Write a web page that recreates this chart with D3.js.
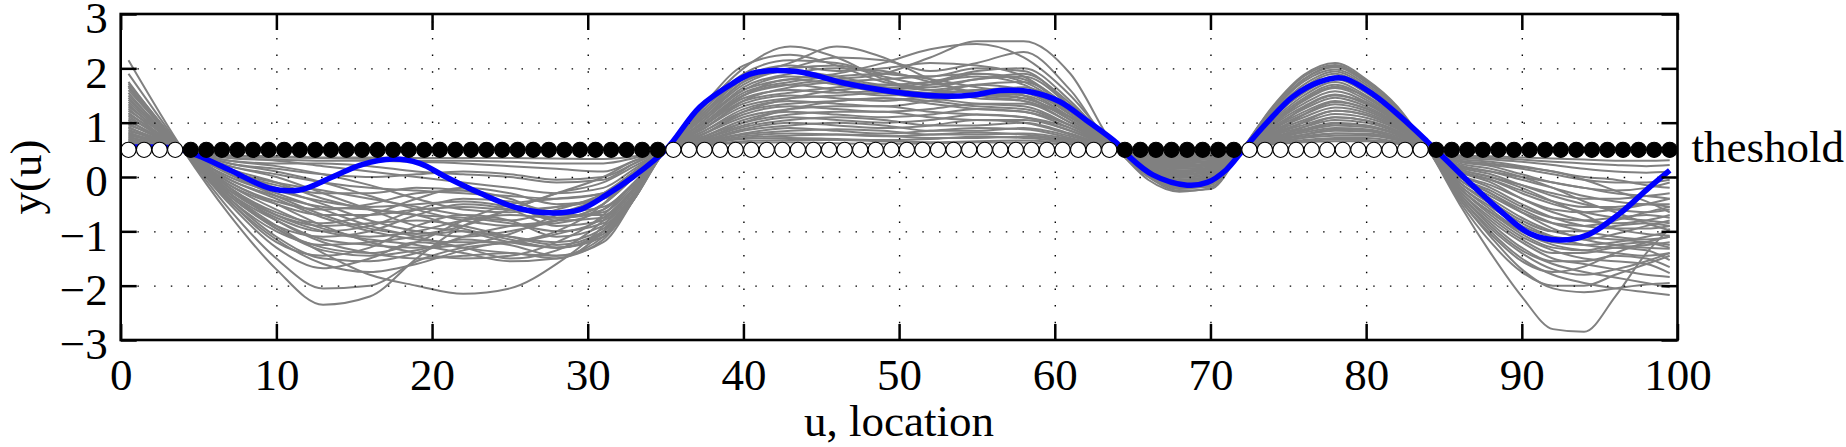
<!DOCTYPE html>
<html>
<head>
<meta charset="utf-8">
<script src="https://cdn.jsdelivr.net/npm/d3@7"></script>
<style>
  body { margin: 0; background: #fff; }
  svg text { font-family: "Liberation Serif", "Times New Roman", serif; fill: #000; }
</style>
</head>
<body>
<div id="chart"></div>
<script>
const threshold = 0.5;
const crossings = [4, 35, 64, 72, 84];
const xTicks = [0, 10, 20, 30, 40, 50, 60, 70, 80, 90, 100];
const yTicks = [-3, -2, -1, 0, 1, 2, 3];
const xLabel = "u, location";
const yLabel = "y(u)";
const thresholdLabel = "theshold";

// markers: runs of [above threshold?, count] for u = 0.5 ... 99.5
const markerRuns = [[1, 4], [0, 31], [1, 29], [0, 8], [1, 12], [0, 16]];

// blue realisation
const blueU = [0.5, 2, 3.5, 4.9, 7, 9.6, 11.5, 13.6, 15.4, 17.5, 19.2, 20.9, 23.1, 25.6, 27.6, 29.5, 31.2, 32.9, 35,
  37.2, 39.3, 40.6, 43.4, 46.6, 49.6, 52.6, 54.8, 56.5, 58.4, 60.3, 62, 64, 64.8, 66.3, 68.5, 69.8, 71, 72.1,
  73.6, 75.3, 77, 78.5, 80.5, 82.2, 83.9, 86.7, 88.8, 90.5, 92.4, 94.2, 96.3, 98, 99.5];
const blueV = [0.55, 0.55, 0.53, 0.40, 0.13, -0.21, -0.24, 0.0, 0.22, 0.33, 0.25, 0.0, -0.3, -0.58, -0.66, -0.6, -0.33, 0.0, 0.5,
  1.29, 1.72, 1.91, 1.94, 1.72, 1.57, 1.49, 1.51, 1.59, 1.57, 1.39, 1.05, 0.62, 0.37, 0.04, -0.15, -0.10, 0.13, 0.5,
  0.99, 1.48, 1.75, 1.82, 1.51, 1.11, 0.66, -0.12, -0.67, -1.04, -1.16, -1.07, -0.67, -0.24, 0.12];

// gray conditional simulations, one row per curve, split at the crossings
const segAU = [0.5];
const segA = [[2.15], [1.9], [1.75], [1.72], [1.68], [1.65], [1.6], [1.55], [1.5], [1.46], [1.42], [1.38], [1.34], [1.3],
  [1.26], [1.22], [1.18], [1.15], [1.12], [1.08], [1.05], [1.02], [0.98], [0.95], [0.92], [0.9], [0.87], [0.84], [0.82],
  [0.8], [0.78], [0.76], [0.74], [0.72], [0.7], [0.68], [0.66], [0.64], [0.62], [0.6]];

const segBU = [7, 10, 13, 16, 19, 22, 25, 28, 31, 33];
const segB = [
  [-0.70, -1.70, -2.35, -2.20, -1.50, -0.90, -0.60, -0.30, 0.00, 0.30],
  [-0.60, -1.50, -2.05, -2.00, -1.55, -1.30, -1.20, -1.00, -0.50, 0.10],
  [-0.30, -0.90, -1.40, -1.80, -2.00, -2.15, -2.05, -1.60, -0.90, -0.20],
  [-0.50, -1.30, -1.68, -1.50, -1.20, -1.30, -1.50, -1.35, -0.80, -0.20],
  [-0.40, -1.10, -1.50, -1.55, -1.40, -1.10, -0.90, -0.80, -0.50, 0.00],
  [-0.20, -0.80, -1.20, -1.40, -1.50, -1.45, -1.40, -1.50, -1.00, -0.30],
  [-0.45, -1.20, -1.45, -1.30, -0.90, -0.70, -0.80, -1.10, -0.90, -0.30],
  [-0.10, -0.50, -0.90, -1.20, -1.40, -1.50, -1.45, -1.20, -0.70, -0.10],
  [-0.30, -0.95, -1.30, -1.40, -1.20, -0.80, -0.50, -0.40, -0.30, 0.10],
  [0.00, -0.30, -0.60, -0.90, -1.10, -1.30, -1.40, -1.45, -1.10, -0.40],
  [-0.35, -0.90, -1.10, -1.00, -0.70, -0.50, -0.60, -0.90, -0.80, -0.20],
  [-0.15, -0.60, -0.95, -1.10, -1.00, -0.80, -0.70, -0.75, -0.60, -0.10],
  [0.10, -0.20, -0.50, -0.80, -1.00, -1.10, -1.00, -0.80, -0.50, 0.00],
  [-0.25, -0.75, -1.00, -0.90, -0.60, -0.40, -0.45, -0.65, -0.55, -0.10],
  [0.20, 0.00, -0.30, -0.60, -0.90, -1.00, -1.20, -1.30, -1.00, -0.35],
  [-0.40, -1.00, -1.25, -1.20, -1.10, -1.00, -1.10, -1.20, -0.95, -0.30],
  [0.05, -0.35, -0.70, -0.95, -1.05, -0.90, -0.60, -0.30, -0.10, 0.20],
  [-0.20, -0.65, -0.85, -0.70, -0.40, -0.20, -0.30, -0.50, -0.40, 0.00],
  [0.15, -0.10, -0.40, -0.60, -0.70, -0.75, -0.85, -1.00, -0.85, -0.25],
  [-0.30, -0.80, -1.15, -1.25, -1.30, -1.25, -1.05, -0.70, -0.35, 0.05],
  [0.25, 0.10, -0.10, -0.35, -0.60, -0.80, -0.90, -0.85, -0.60, -0.10],
  [-0.10, -0.45, -0.60, -0.50, -0.30, -0.25, -0.40, -0.70, -0.70, -0.20],
  [0.10, -0.15, -0.30, -0.30, -0.20, -0.25, -0.50, -0.80, -0.75, -0.20],
  [-0.25, -0.70, -0.90, -0.85, -0.80, -0.90, -1.10, -1.25, -1.00, -0.35],
  [0.30, 0.20, 0.05, -0.15, -0.40, -0.60, -0.65, -0.55, -0.35, 0.05],
  [-0.05, -0.40, -0.75, -1.00, -1.15, -1.20, -1.20, -1.05, -0.75, -0.20],
  [0.20, 0.05, -0.10, -0.20, -0.25, -0.30, -0.35, -0.40, -0.30, 0.10],
  [-0.15, -0.50, -0.70, -0.70, -0.60, -0.55, -0.60, -0.55, -0.40, 0.00],
  [0.35, 0.30, 0.20, 0.10, 0.00, -0.10, -0.20, -0.30, -0.20, 0.15],
  [0.05, -0.25, -0.45, -0.55, -0.50, -0.45, -0.55, -0.75, -0.65, -0.15],
  [0.30, 0.25, 0.25, 0.20, 0.10, 0.05, 0.00, -0.10, -0.05, 0.25],
  [-0.35, -0.95, -1.35, -1.45, -1.35, -1.15, -1.25, -1.45, -1.20, -0.40],
  [0.35, 0.32, 0.30, 0.30, 0.28, 0.25, 0.20, 0.15, 0.10, 0.30],
  [0.10, -0.10, -0.25, -0.40, -0.55, -0.70, -0.80, -0.60, -0.30, 0.10],
  [0.38, 0.36, 0.35, 0.33, 0.30, 0.30, 0.28, 0.25, 0.25, 0.35],
  [-0.05, -0.35, -0.55, -0.60, -0.70, -0.95, -1.15, -1.30, -1.10, -0.40],
  [0.25, 0.15, 0.05, 0.00, 0.05, 0.10, 0.05, -0.05, 0.00, 0.25],
  [-0.20, -0.70, -1.00, -1.15, -1.25, -1.40, -1.55, -1.50, -1.15, -0.40],
  [0.40, 0.38, 0.36, 0.36, 0.35, 0.35, 0.35, 0.34, 0.33, 0.38],
  [-0.45, -1.15, -1.60, -1.75, -1.60, -1.35, -1.20, -1.30, -1.05, -0.35]
];

const segCU = [37.5, 40, 43, 46, 49, 52, 55, 58, 61];
const segC = [
  [1.30, 2.00, 2.40, 2.20, 1.80, 1.60, 1.70, 1.60, 1.20],
  [1.20, 1.80, 2.10, 2.40, 2.20, 1.80, 1.50, 1.40, 1.10],
  [1.10, 1.60, 1.80, 1.90, 2.10, 2.35, 2.45, 2.20, 1.50],
  [1.00, 1.50, 1.70, 1.80, 1.90, 2.20, 2.50, 2.50, 1.90],
  [1.25, 1.90, 2.15, 2.10, 1.90, 1.85, 2.00, 1.95, 1.30],
  [1.20, 1.85, 2.05, 1.95, 2.00, 2.10, 2.05, 1.85, 1.25],
  [1.15, 1.75, 2.00, 2.05, 1.85, 1.70, 1.80, 1.90, 1.35],
  [1.10, 1.70, 1.95, 1.85, 1.70, 1.75, 1.95, 2.00, 1.40],
  [1.05, 1.60, 1.85, 1.80, 1.65, 1.55, 1.60, 1.65, 1.20],
  [1.00, 1.55, 1.75, 1.85, 1.90, 1.80, 1.65, 1.50, 1.05],
  [1.00, 1.50, 1.70, 1.60, 1.50, 1.55, 1.70, 1.75, 1.25],
  [0.95, 1.45, 1.60, 1.55, 1.60, 1.75, 1.85, 1.70, 1.15],
  [0.95, 1.40, 1.55, 1.65, 1.70, 1.60, 1.45, 1.40, 1.00],
  [0.90, 1.35, 1.50, 1.45, 1.40, 1.50, 1.60, 1.55, 1.10],
  [0.90, 1.30, 1.45, 1.50, 1.55, 1.45, 1.35, 1.30, 0.95],
  [0.85, 1.25, 1.40, 1.35, 1.30, 1.40, 1.50, 1.45, 1.05],
  [0.85, 1.20, 1.35, 1.40, 1.45, 1.35, 1.25, 1.20, 0.95],
  [0.80, 1.15, 1.30, 1.25, 1.20, 1.25, 1.35, 1.35, 1.00],
  [0.80, 1.10, 1.25, 1.30, 1.30, 1.20, 1.15, 1.10, 0.90],
  [0.75, 1.05, 1.20, 1.15, 1.10, 1.15, 1.25, 1.20, 0.90],
  [0.75, 1.00, 1.15, 1.20, 1.20, 1.10, 1.05, 1.05, 0.85],
  [0.72, 0.95, 1.10, 1.05, 1.00, 1.05, 1.15, 1.10, 0.85],
  [0.70, 0.92, 1.05, 1.10, 1.05, 0.95, 0.95, 1.00, 0.80],
  [0.68, 0.88, 1.00, 0.95, 0.90, 0.95, 1.05, 1.00, 0.78],
  [0.66, 0.85, 0.95, 1.00, 0.95, 0.85, 0.85, 0.90, 0.75],
  [0.65, 0.80, 0.90, 0.85, 0.80, 0.85, 0.90, 0.88, 0.72],
  [0.64, 0.78, 0.85, 0.88, 0.85, 0.78, 0.78, 0.80, 0.70],
  [0.62, 0.75, 0.80, 0.78, 0.75, 0.78, 0.82, 0.78, 0.68],
  [0.61, 0.72, 0.76, 0.78, 0.76, 0.72, 0.72, 0.74, 0.66],
  [0.60, 0.70, 0.72, 0.70, 0.68, 0.70, 0.74, 0.72, 0.64],
  [0.59, 0.66, 0.68, 0.68, 0.66, 0.64, 0.66, 0.67, 0.62],
  [0.58, 0.63, 0.64, 0.62, 0.61, 0.62, 0.64, 0.63, 0.60],
  [1.35, 2.05, 2.25, 2.05, 1.75, 1.65, 1.80, 1.85, 1.30],
  [1.15, 1.80, 1.95, 1.75, 1.60, 1.70, 1.90, 1.80, 1.20],
  [1.05, 1.65, 1.90, 2.00, 1.95, 1.75, 1.55, 1.45, 1.10],
  [0.90, 1.40, 1.65, 1.75, 1.80, 1.85, 1.90, 1.75, 1.20],
  [0.80, 1.20, 1.45, 1.60, 1.65, 1.60, 1.55, 1.50, 1.10],
  [0.70, 1.00, 1.25, 1.40, 1.45, 1.40, 1.30, 1.25, 0.95],
  [0.95, 1.50, 1.80, 1.70, 1.55, 1.45, 1.50, 1.55, 1.15],
  [1.10, 1.75, 2.00, 2.20, 2.15, 1.95, 2.10, 2.30, 1.60]
];

const segDU = [66, 68, 70];
const segD = [
  [-0.05, -0.27, -0.20], [0.00, -0.25, -0.22], [0.02, -0.22, -0.15], [0.05, -0.20, -0.12], [0.05, -0.18, -0.10],
  [0.08, -0.15, -0.08], [0.10, -0.12, -0.05], [0.12, -0.10, -0.02], [0.12, -0.08, 0.00], [0.15, -0.05, 0.02],
  [0.15, -0.02, 0.05], [0.18, 0.00, 0.08], [0.18, 0.03, 0.10], [0.20, 0.05, 0.12], [0.22, 0.08, 0.14],
  [0.22, 0.10, 0.16], [0.24, 0.12, 0.18], [0.26, 0.15, 0.20], [0.27, 0.18, 0.22], [0.28, 0.20, 0.24],
  [0.30, 0.22, 0.26], [0.31, 0.25, 0.28], [0.32, 0.27, 0.30], [0.34, 0.30, 0.32], [0.35, 0.32, 0.34],
  [0.36, 0.34, 0.36], [0.38, 0.36, 0.38], [0.39, 0.38, 0.40], [0.40, 0.40, 0.41], [0.42, 0.42, 0.43],
  [0.02, -0.20, -0.18], [0.07, -0.13, -0.12], [0.10, -0.05, -0.04], [0.14, 0.02, 0.00], [0.18, 0.06, 0.06],
  [0.21, 0.12, 0.10], [0.25, 0.16, 0.15], [0.29, 0.23, 0.21], [0.33, 0.28, 0.27], [0.37, 0.35, 0.33]
];

const segEU = [74, 76, 78, 80, 82];
const segE = [
  [1.30, 1.88, 2.10, 1.80, 1.30], [1.28, 1.85, 2.06, 1.78, 1.28], [1.25, 1.80, 2.02, 1.74, 1.25],
  [1.22, 1.76, 1.98, 1.70, 1.22], [1.18, 1.70, 1.94, 1.66, 1.20], [1.15, 1.65, 1.90, 1.62, 1.18],
  [1.12, 1.60, 1.85, 1.58, 1.15], [1.10, 1.55, 1.80, 1.55, 1.12], [1.05, 1.50, 1.75, 1.50, 1.10],
  [1.02, 1.45, 1.70, 1.46, 1.06], [1.00, 1.40, 1.64, 1.42, 1.04], [0.98, 1.35, 1.58, 1.38, 1.02],
  [0.95, 1.30, 1.52, 1.34, 1.00], [0.92, 1.25, 1.46, 1.30, 0.98], [0.90, 1.20, 1.40, 1.26, 0.96],
  [0.88, 1.15, 1.34, 1.22, 0.94], [0.85, 1.10, 1.28, 1.18, 0.92], [0.82, 1.05, 1.22, 1.14, 0.90],
  [0.80, 1.00, 1.16, 1.09, 0.88], [0.78, 0.96, 1.10, 1.04, 0.85], [0.76, 0.92, 1.05, 1.00, 0.82],
  [0.74, 0.88, 1.00, 0.95, 0.80], [0.72, 0.85, 0.95, 0.92, 0.78], [0.70, 0.82, 0.90, 0.88, 0.75],
  [0.68, 0.78, 0.85, 0.84, 0.72], [0.66, 0.75, 0.80, 0.80, 0.70], [0.64, 0.72, 0.76, 0.76, 0.68],
  [0.62, 0.68, 0.72, 0.72, 0.65], [0.61, 0.66, 0.69, 0.68, 0.63], [0.60, 0.64, 0.66, 0.66, 0.61],
  [1.20, 1.80, 2.04, 1.76, 1.26], [1.08, 1.58, 1.82, 1.60, 1.16], [0.96, 1.42, 1.66, 1.48, 1.08],
  [0.86, 1.28, 1.50, 1.36, 1.01], [0.80, 1.15, 1.38, 1.26, 0.96], [0.74, 1.02, 1.22, 1.14, 0.90],
  [0.70, 0.92, 1.10, 1.04, 0.84], [0.67, 0.85, 0.98, 0.95, 0.78], [0.64, 0.78, 0.88, 0.86, 0.72],
  [0.62, 0.72, 0.80, 0.78, 0.68]
];

const segFU = [86, 88, 90, 92, 94, 96, 98, 99.5];
const segF = [
  [-0.50, -1.40, -2.20, -2.80, -2.85, -2.20, -1.40, -0.95],
  [-0.40, -1.10, -1.70, -2.05, -2.12, -2.05, -1.98, -1.95],
  [-0.35, -1.00, -1.50, -1.80, -1.95, -2.05, -2.12, -2.17],
  [-0.30, -0.90, -1.35, -1.60, -1.75, -1.85, -1.95, -2.03],
  [-0.35, -0.95, -1.40, -1.70, -1.80, -1.70, -1.55, -1.40],
  [-0.25, -0.80, -1.20, -1.50, -1.60, -1.70, -1.80, -1.84],
  [-0.30, -0.85, -1.30, -1.55, -1.55, -1.45, -1.50, -1.66],
  [-0.20, -0.70, -1.10, -1.35, -1.50, -1.55, -1.60, -1.77],
  [-0.25, -0.75, -1.15, -1.40, -1.40, -1.30, -1.35, -1.53],
  [-0.15, -0.60, -1.00, -1.25, -1.35, -1.40, -1.45, -1.40],
  [-0.20, -0.65, -1.00, -1.20, -1.25, -1.20, -1.10, -1.00],
  [-0.10, -0.50, -0.85, -1.10, -1.25, -1.30, -1.25, -1.20],
  [-0.15, -0.55, -0.90, -1.10, -1.15, -1.05, -0.90, -0.80],
  [-0.05, -0.40, -0.75, -1.00, -1.10, -1.15, -1.20, -1.30],
  [-0.10, -0.45, -0.80, -1.00, -1.00, -0.90, -0.85, -0.90],
  [0.00, -0.30, -0.60, -0.85, -1.00, -1.10, -1.15, -1.10],
  [-0.05, -0.35, -0.65, -0.85, -0.90, -0.80, -0.65, -0.55],
  [0.05, -0.20, -0.50, -0.75, -0.90, -0.95, -0.95, -0.90],
  [0.00, -0.25, -0.55, -0.75, -0.80, -0.75, -0.70, -0.75],
  [0.10, -0.10, -0.40, -0.65, -0.80, -0.85, -0.80, -0.70],
  [0.05, -0.15, -0.40, -0.60, -0.65, -0.60, -0.50, -0.40],
  [0.12, -0.05, -0.30, -0.50, -0.65, -0.75, -0.80, -0.85],
  [0.10, -0.05, -0.25, -0.45, -0.55, -0.55, -0.50, -0.55],
  [0.18, 0.05, -0.15, -0.35, -0.50, -0.60, -0.65, -0.60],
  [0.15, 0.00, -0.15, -0.30, -0.40, -0.40, -0.35, -0.30],
  [0.22, 0.10, -0.05, -0.20, -0.35, -0.45, -0.50, -0.50],
  [0.20, 0.10, 0.00, -0.10, -0.20, -0.25, -0.20, -0.10],
  [0.28, 0.20, 0.05, -0.10, -0.20, -0.30, -0.35, -0.40],
  [0.30, 0.22, 0.15, 0.05, -0.05, -0.10, -0.10, -0.05],
  [0.33, 0.28, 0.20, 0.10, 0.00, -0.05, -0.15, -0.20],
  [0.36, 0.32, 0.28, 0.22, 0.15, 0.10, 0.08, 0.10],
  [0.38, 0.35, 0.32, 0.28, 0.25, 0.22, 0.20, 0.22],
  [0.40, 0.38, 0.36, 0.34, 0.32, 0.30, 0.30, 0.31],
  [-0.45, -1.20, -1.75, -2.00, -2.00, -1.80, -1.60, -1.45],
  [-0.40, -1.05, -1.55, -1.75, -1.65, -1.40, -1.20, -1.10],
  [-0.20, -0.65, -1.05, -1.30, -1.35, -1.25, -1.20, -1.25],
  [0.00, -0.30, -0.65, -0.95, -1.15, -1.25, -1.30, -1.32],
  [0.15, 0.00, -0.20, -0.45, -0.70, -0.95, -1.05, -1.08],
  [0.25, 0.15, 0.00, -0.20, -0.45, -0.65, -0.85, -0.98],
  [0.30, 0.25, 0.18, 0.10, -0.05, -0.25, -0.45, -0.65]
];

const width = 1846, height = 447;
const plot = {left: 120.7, right: 1677.5, top: 14, bottom: 340};
const tickLen = 16;

const svg = d3.select("#chart").append("svg")
  .attr("width", width)
  .attr("height", height);

const x = d3.scaleLinear().domain([0, 100]).range([plot.left, plot.right]);
const y = d3.scaleLinear().domain([-3, 3]).range([plot.bottom, plot.top]);

// assemble the gray curves
const segments = [[segAU, segA], [segBU, segB], [segCU, segC], [segDU, segD], [segEU, segE], [segFU, segF]];
const grayCurves = segA.map((_, i) => {
  const pts = [];
  segments.forEach(([us, rows], s) => {
    us.forEach((u, k) => pts.push([u, rows[i][k]]));
    if (s < crossings.length) pts.push([crossings[s], threshold]);
  });
  return pts;
});

const grayLine = d3.line()
  .x(d => x(d[0]))
  .y(d => y(d[1]))
  .curve(d3.curveMonotoneX);

svg.append("g")
  .selectAll("path")
  .data(grayCurves)
  .join("path")
    .attr("d", grayLine)
    .attr("fill", "none")
    .attr("stroke", "#808080")
    .attr("stroke-width", 2);

// dotted grid
const gridX = xTicks.slice(1, -1), gridY = yTicks.slice(1, -1);
svg.append("g")
  .attr("transform", `translate(0,${plot.bottom})`)
  .call(d3.axisBottom(x).tickValues(gridX).tickSize(-(plot.bottom - plot.top)).tickFormat(""))
  .call(g => g.select(".domain").remove())
  .call(g => g.selectAll("line").attr("stroke", "#000").attr("stroke-width", 1.4).attr("stroke-dasharray", "1.5 15.2"));
svg.append("g")
  .attr("transform", `translate(${plot.left},0)`)
  .call(d3.axisLeft(y).tickValues(gridY).tickSize(-(plot.right - plot.left)).tickFormat(""))
  .call(g => g.select(".domain").remove())
  .call(g => g.selectAll("line").attr("stroke", "#000").attr("stroke-width", 1.4).attr("stroke-dasharray", "1.5 15.2"));

// blue realisation
const blueLine = d3.line()
  .x(d => x(d[0]))
  .y(d => y(d[1]))
  .curve(d3.curveCatmullRom.alpha(0.5));
svg.append("path")
  .datum(blueU.map((u, i) => [u, blueV[i]]))
  .attr("d", blueLine)
  .attr("fill", "none")
  .attr("stroke", "#0000ff")
  .attr("stroke-width", 5.5);

// threshold markers
const markerState = markerRuns.flatMap(([s, n]) => d3.range(n).map(() => s));
const markerU = d3.range(0.5, 100, 1);
svg.append("g")
  .selectAll("circle")
  .data(markerU.map((u, i) => ({u, above: markerState[i]})))
  .join("circle")
    .attr("cx", d => x(d.u))
    .attr("cy", y(threshold))
    .attr("r", 7.6)
    .attr("fill", d => d.above ? "#fff" : "#000")
    .attr("stroke", "#000")
    .attr("stroke-width", 1.1);

// axes with inward ticks on all four sides
const font = 45;
const styleAxis = g => {
  g.select(".domain").remove();
  g.selectAll(".tick line").attr("stroke", "#000").attr("stroke-width", 2.5);
  g.selectAll("text").attr("font-size", font).attr("font-family", "Liberation Serif, Times New Roman, serif");
};
svg.append("g")
  .attr("transform", `translate(0,${plot.bottom})`)
  .call(d3.axisBottom(x).tickValues(xTicks).tickSizeInner(-tickLen).tickSizeOuter(0).tickPadding(18))
  .call(styleAxis);
svg.append("g")
  .attr("transform", `translate(0,${plot.top})`)
  .call(d3.axisTop(x).tickValues(xTicks).tickSizeInner(-tickLen).tickSizeOuter(0).tickFormat(""))
  .call(styleAxis);
svg.append("g")
  .attr("transform", `translate(${plot.left},0)`)
  .call(d3.axisLeft(y).tickValues(yTicks).tickSizeInner(-tickLen).tickSizeOuter(0).tickPadding(13)
    .tickFormat(d => d < 0 ? "\u2212" + Math.abs(d) : d))
  .call(styleAxis)
  .call(g => g.selectAll("text").attr("dy", "0.42em"));
svg.append("g")
  .attr("transform", `translate(${plot.right},0)`)
  .call(d3.axisRight(y).tickValues(yTicks).tickSizeInner(-tickLen).tickSizeOuter(0).tickFormat(""))
  .call(styleAxis);

svg.append("rect")
  .attr("x", plot.left).attr("y", plot.top)
  .attr("width", plot.right - plot.left).attr("height", plot.bottom - plot.top)
  .attr("fill", "none").attr("stroke", "#000").attr("stroke-width", 2.6);

// labels
svg.append("text")
  .attr("x", (plot.left + plot.right) / 2)
  .attr("y", 436)
  .attr("text-anchor", "middle")
  .attr("font-size", font)
  .text(xLabel);
svg.append("text")
  .attr("transform", `translate(41,${(plot.top + plot.bottom) / 2}) rotate(-90)`)
  .attr("text-anchor", "middle")
  .attr("font-size", font)
  .text(yLabel);
svg.append("text")
  .attr("x", plot.right + 14)
  .attr("y", 162)
  .attr("font-size", font)
  .text(thresholdLabel);
</script>
</body>
</html>
